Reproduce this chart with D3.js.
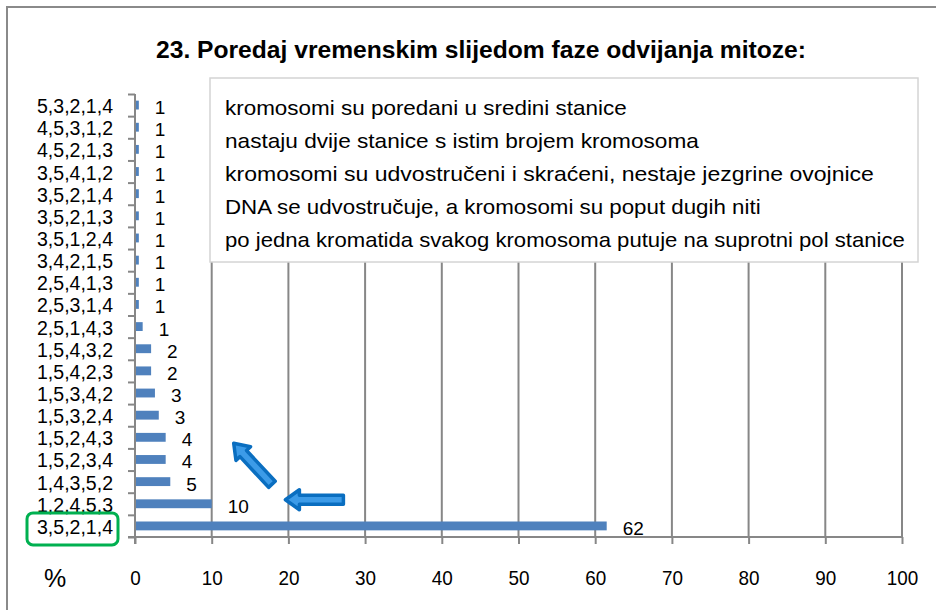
<!DOCTYPE html>
<html>
<head>
<meta charset="utf-8">
<script src="https://cdn.jsdelivr.net/npm/d3@7"></script>
<style>
  body { margin: 0; background: #fff; }
  text { font-family: "Liberation Sans", Arial, sans-serif; fill: #000; }
</style>
</head>
<body>
<svg id="chart" width="936" height="610"></svg>
<script>
// answers (order of phases) and share of pupils in %
var categories = ["5,3,2,1,4", "4,5,3,1,2", "4,5,2,1,3", "3,5,4,1,2", "3,5,2,1,4",
                  "3,5,2,1,3", "3,5,1,2,4", "3,4,2,1,5", "2,5,4,1,3", "2,5,3,1,4",
                  "2,5,1,4,3", "1,5,4,3,2", "1,5,4,2,3", "1,5,3,4,2", "1,5,3,2,4",
                  "1,5,2,4,3", "1,5,2,3,4", "1,4,3,5,2", "1,2,4,5,3", "3,5,2,1,4"];
var values = [0.5, 0.5, 0.5, 0.5, 0.5, 0.5, 0.5, 0.5, 0.5, 0.5,
              1.0, 2.1, 2.1, 2.6, 3.1, 4.0, 4.0, 4.6, 10.0, 61.5];
var xTicks = [0, 10, 20, 30, 40, 50, 60, 70, 80, 90, 100];
var legendLines = [
  "kromosomi su poredani u sredini stanice",
  "nastaju dvije stanice s istim brojem kromosoma",
  "kromosomi su udvostručeni i skraćeni, nestaje jezgrine ovojnice",
  "DNA se udvostručuje, a kromosomi su poput dugih niti",
  "po jedna kromatida svakog kromosoma putuje na suprotni pol stanice"
];
var title = "23. Poredaj vremenskim slijedom faze odvijanja mitoze:";

var svg = d3.select("#chart");
var plotL = 135, plotR = 902, plotT = 94, plotB = 537;
var GRAY = "#878787", BLUE = "#4f81bd";

var x = d3.scaleLinear().domain([0, 100]).range([plotL, plotR]);
var y = d3.scaleBand().domain(d3.range(categories.length)).range([plotT, plotB]).paddingInner(0.6).paddingOuter(0.3);
var yEdge = d3.scaleLinear().domain([0, categories.length]).range([plotT, plotB]);

// outer frame
svg.append("rect").attr("x", 7).attr("y", 7).attr("width", 960).attr("height", 640)
   .attr("fill", "none").attr("stroke", "#8a8a8a").attr("stroke-width", 2);

// title
svg.append("text").attr("x", 481).attr("y", 58).attr("text-anchor", "middle")
   .attr("font-size", 24).attr("font-weight", "bold")
   .attr("textLength", 650).attr("lengthAdjust", "spacingAndGlyphs")
   .text(title);

// vertical gridlines
svg.append("g").selectAll("line").data(xTicks.slice(1)).enter().append("line")
   .attr("x1", function(d){ return x(d); }).attr("x2", function(d){ return x(d); })
   .attr("y1", plotT).attr("y2", plotB)
   .attr("stroke", GRAY).attr("stroke-width", 2);

// bars
svg.append("g").selectAll("rect").data(values).enter().append("rect")
   .attr("x", x(0)).attr("y", function(d, i){ return y(i); })
   .attr("width", function(d){ return x(d) - x(0); })
   .attr("height", y.bandwidth())
   .attr("fill", BLUE);

// data labels
svg.append("g").selectAll("text").data(values).enter().append("text")
   .attr("x", function(d){ return x(d) + 16; })
   .attr("y", function(d, i){ return y(i) + y.bandwidth() / 2 + 9; })
   .attr("font-size", 19)
   .text(function(d){ return Math.round(d); });

// x axis
var xAxis = svg.append("g").attr("transform", "translate(0," + plotB + ")")
   .call(d3.axisBottom(x).tickValues(xTicks).tickSize(7).tickPadding(34).tickSizeOuter(0));
xAxis.select(".domain").attr("stroke", GRAY).attr("stroke-width", 2).attr("d", "M" + (plotL - 7) + ",0H" + plotR);
xAxis.selectAll(".tick line").attr("stroke", GRAY).attr("stroke-width", 2);
xAxis.selectAll(".tick text").attr("font-family", "Liberation Sans, Arial, sans-serif")
   .attr("fill", "#000").style("font-size", "21px").attr("dy", "0.35em")
   .attr("textLength", function(d){ return String(d).length * 10.5; })
   .attr("lengthAdjust", "spacingAndGlyphs");

svg.append("text").attr("x", 55).attr("y", 587).attr("text-anchor", "middle")
   .attr("font-size", 25).text("%");

// category axis with ticks between categories
var yAxis = svg.append("g").attr("transform", "translate(" + plotL + ",0)")
   .call(d3.axisLeft(yEdge).tickValues(d3.range(categories.length + 1)).tickSize(7).tickFormat("").tickSizeOuter(0));
yAxis.select(".domain").attr("stroke", GRAY).attr("stroke-width", 2).attr("d", "M0," + plotT + "V" + (plotB + 7));
yAxis.selectAll(".tick line").attr("stroke", GRAY).attr("stroke-width", 2);

svg.append("g").selectAll("text").data(categories).enter().append("text")
   .attr("x", 113).attr("y", function(d, i){ return y(i) + y.bandwidth() / 2 + 8; })
   .attr("text-anchor", "end").attr("font-size", 20)
   .attr("textLength", 76).attr("lengthAdjust", "spacingAndGlyphs")
   .text(function(d){ return d; });

// highlight of the correct answer
var last = categories.length - 1;
svg.append("rect").attr("x", 27).attr("y", y(last) + y.bandwidth() / 2 - 13)
   .attr("width", 91).attr("height", 32).attr("rx", 6)
   .attr("fill", "none").attr("stroke", "#00b050").attr("stroke-width", 3);

// legend box with the phase descriptions
var legend = svg.append("g");
legend.append("rect").attr("x", 210).attr("y", 78).attr("width", 708).attr("height", 184)
   .attr("fill", "#fff").attr("stroke", "#d4d4d4").attr("stroke-width", 1.5);
legend.selectAll("text").data(legendLines).enter().append("text")
   .attr("x", 225).attr("y", function(d, i){ return 115 + i * 33; })
   .attr("font-size", 21)
   .attr("textLength", function(d){ return d.length * 10.3; })
   .attr("lengthAdjust", "spacingAndGlyphs")
   .text(function(d){ return d; });

// block arrows pointing at the second answer
function arrowPath(len) {
  var sh = 4.5, hw = 10, hl = 14;
  return "M0,0L" + hl + "," + (-hw) + "L" + hl + "," + (-sh) + "L" + len + "," + (-sh) +
         "L" + len + "," + sh + "L" + hl + "," + sh + "L" + hl + "," + hw + "Z";
}
svg.append("path").attr("d", arrowPath(58))
   .attr("transform", "translate(" + (x(20) - 3) + "," + (y(last - 1) + y.bandwidth() / 2 - 4) + ")")
   .attr("fill", "#3c9be8").attr("stroke", "#0a6ec0").attr("stroke-width", 3.5).attr("stroke-linejoin", "round");
svg.append("path").attr("d", arrowPath(56))
   .attr("transform", "translate(" + (x(13) - 1) + "," + (y(15) + y.bandwidth() / 2 + 6) + ") rotate(47)")
   .attr("fill", "#3c9be8").attr("stroke", "#0a6ec0").attr("stroke-width", 3.5).attr("stroke-linejoin", "round");
</script>
</body>
</html>
